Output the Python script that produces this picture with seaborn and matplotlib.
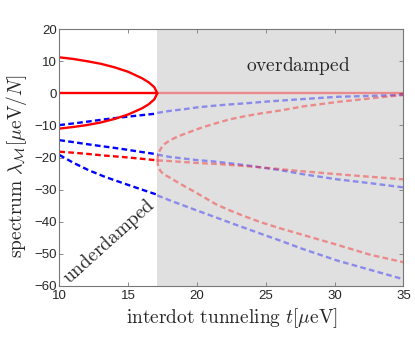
import numpy as np
import pandas as pd
import matplotlib
matplotlib.use("Agg")
import matplotlib.pyplot as plt
import seaborn as sns

# boundary between underdamped and overdamped regime
t_crit = 17.12

# red solid branch (underdamped), upper and lower half
t_ell = [10, 11, 12, 13, 14, 15, 16, 16.5, 16.9, 17.12]
ell_up = [11.2, 10.7, 10.0, 9.2, 8.1, 6.7, 4.7, 3.4, 1.9, 0.0]
ell_low = [-11.0, -10.5, -9.9, -9.1, -8.0, -6.6, -4.7, -3.4, -1.9, 0.0]

# zero mode
t_zero_under = [10, 17.12]
zero_under = [0, 0]
t_zero_over = [17.12, 35]
zero_over = [0, 0]

# underdamped dashed branches
t_under = [10, 11, 12.1, 13.3, 14.5, 16, 17.12]
blue1_under = [-9.9, -9.4, -8.8, -8.1, -7.5, -6.8, -6.3]
blue2_under = [-14.6, -15.2, -15.9, -16.6, -17.3, -18.3, -19.0]
red_under = [-18.2, -18.5, -18.9, -19.4, -19.8, -20.4, -20.9]
blue3_under = [-19.2, -21.6, -23.9, -26.0, -27.8, -30.0, -31.6]

# overdamped dashed branches
t_over = [17.12, 18.0, 19.0, 20.0, 21.4, 22.6, 23.9, 25.0, 26.0, 27.7, 30.2, 32.6, 35]
blue1_over = [-6.1, -5.5, -5.0, -4.4, -3.8, -3.4, -3.0, -2.6, -2.3, -1.8, -1.1, -0.8, -0.5]
blue2_over = [-19.1, -19.8, -20.3, -20.8, -21.3, -21.9, -22.6, -23.3, -23.9, -25.2, -26.8, -28.0, -29.3]
red_over = [-20.9, -21.1, -21.4, -21.7, -22.0, -22.4, -22.8, -23.2, -23.6, -24.3, -25.2, -26.0, -26.8]
blue3_over = [-31.8, -33.3, -34.9, -36.5, -38.7, -40.6, -42.6, -44.3, -45.8, -48.5, -52.1, -55.0, -57.9]

t_fork = [17.12, 17.19, 17.35, 17.55, 18.04, 18.7, 19.5, 20.4, 21.4, 22.4, 23.4, 24.6, 26.0, 27.7, 30.2, 32.6, 35]
red_fork_up = [-20.9, -18.8, -17.4, -16.1, -14.6, -13.3, -12.0, -10.6, -9.3, -8.1, -7.2, -6.3, -5.4, -4.1, -2.7, -1.6, -0.5]
red_fork_low = [-20.9, -23.0, -24.2, -25.1, -26.3, -28.0, -29.9, -32.1, -34.6, -36.5, -38.2, -40.1, -42.0, -44.1, -47.2, -50.3, -52.6]

sns.set_style("ticks")
plt.rcParams['font.family'] = ['Liberation Sans', 'DejaVu Sans']
plt.rcParams['mathtext.fontset'] = 'cm'

fig = plt.figure(figsize=(4.15, 3.38), dpi=100)
ax = fig.add_axes([0.143, 0.154, 0.829, 0.760])

ax.axvspan(t_crit, 35, color='#e0e0e0', lw=0, zorder=0)

dash = (0, (2.4, 1.4))
lw = 1.7
light = 0.38


def draw(t, y, color, alpha=1.0, ls='-'):
    sns.lineplot(x=t, y=y, ax=ax, color=color, alpha=alpha, lw=lw,
                 linestyle=ls, sort=False, estimator=None, legend=False)


# overdamped (faded)
draw(t_zero_over, zero_over, 'red', light)
draw(t_over, blue1_over, 'blue', light, dash)
draw(t_over, blue2_over, 'blue', light, dash)
draw(t_over, red_over, 'red', light, dash)
draw(t_over, blue3_over, 'blue', light, dash)
draw(t_fork, red_fork_up, 'red', light, dash)
draw(t_fork, red_fork_low, 'red', light, dash)

# underdamped
draw(t_under, blue1_under, 'blue', 1, dash)
draw(t_under, blue2_under, 'blue', 1, dash)
draw(t_under, red_under, 'red', 1, dash)
draw(t_under, blue3_under, 'blue', 1, dash)
draw(t_zero_under, zero_under, 'red')
draw(t_ell, ell_up, 'red')
draw(t_ell, ell_low, 'red')

ax.set_xlim(10, 35)
ax.set_ylim(-60, 20)
ax.set_xticks([10, 15, 20, 25, 30, 35])
ax.set_yticks([-60, -50, -40, -30, -20, -10, 0, 10, 20])
ax.tick_params(direction='in', length=3, width=0.6, color='#777777',
               labelsize=9.5, top=True, right=True)
ax.tick_params(axis='y', pad=1.5)
ax.tick_params(axis='x', pad=3)
for s in ax.spines.values():
    s.set_color('#777777')
    s.set_linewidth(0.8)

ax.text(27.4, 8.5, r'$\mathrm{overdamped}$', fontsize=14, ha='center', va='center')
ax.text(13.6, -46.1, r'$\mathrm{underdamped}$', fontsize=14, ha='center', va='center',
        rotation=42)

ax.set_xlabel(r'$\mathrm{interdot\ tunneling}\ t[\mu\mathrm{eV}]$', fontsize=14, labelpad=3)
ax.set_ylabel(r'$\mathrm{spectrum}\ \lambda_{\mathcal{M}}[\mu\mathrm{eV}/N]$', fontsize=14)
ax.yaxis.label.set_y(0.467)

fig.savefig('out.png', dpi=100)
